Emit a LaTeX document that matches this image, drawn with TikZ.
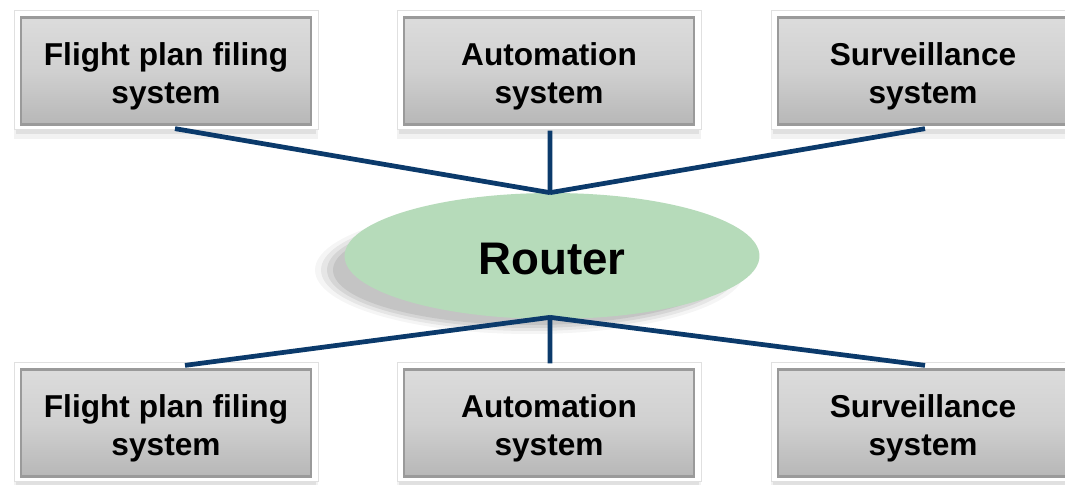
\documentclass[tikz,border=0pt]{standalone}
\usepackage{fontspec}
\setmainfont{Liberation Sans}
\usetikzlibrary{shapes.geometric}
\definecolor{navy}{HTML}{0B3A6B}
\definecolor{boxgray}{HTML}{D0D0D0}
\definecolor{boxedge}{HTML}{9A9A9A}
\definecolor{routergreen}{HTML}{B6DBBA}
\tikzset{
  sysbox/.style={rectangle, minimum width=5.8cm, minimum height=2.14cm, inner sep=0pt,
    top color=boxgray!75!white, bottom color=boxgray!88!black, middle color=boxgray,
    draw=boxedge, line width=1.3pt},
  boxtext/.style={align=center, inner sep=0pt, font=\fontsize{18}{21.5}\selectfont\bfseries},
  link/.style={draw=navy, line width=2.7pt},
}
\newcommand{\frameshadow}[2]{%
  \fill[black, opacity=0.05] (#1-152,#2-58) rectangle (#1+152,#2+68);
  \fill[black, opacity=0.07] (#1-150,#2-58) rectangle (#1+150,#2+63);
  \fill[white] (#1-152,#2-61) rectangle (#1+152,#2+58);
  \draw[black!12, line width=0.4pt] (#1-152,#2-61) rectangle (#1+152,#2+58);
}
\begin{document}
\begin{tikzpicture}[x=0.02cm,y=-0.02cm]
\useasboundingbox[fill=white] (0,0) rectangle (1065,484);
% router shadow
\foreach \i/\o in {0/0.04,0.12/0.06,0.24/0.07,0.36/0.08}{
  \fill[black, opacity=\o] (530,270) ellipse ({4.3cm-\i cm} and {1.28cm-0.5*\i cm});
}
\node[ellipse, minimum width=8.3cm, minimum height=2.52cm, fill=routergreen, inner sep=0pt] (router) at (552,256) {};
\node[inner sep=0pt, font=\fontsize{26}{30}\selectfont\bfseries] (routertext) at ([yshift=-0.06cm]router.center) {Router};
\coordinate (rt) at ([xshift=-0.04cm]router.north);
\coordinate (rb) at ([xshift=-0.04cm,yshift=0.04cm]router.south);
% frames
\frameshadow{166}{71}
\frameshadow{549}{71}
\frameshadow{923}{71}
\frameshadow{166}{423}
\frameshadow{549}{423}
\frameshadow{923}{423}
% boxes
\node[sysbox] (t1) at (166,71) {};
\node[sysbox] (t2) at (549,71) {};
\node[sysbox] (t3) at (923,71) {};
\node[sysbox] (b1) at (166,423) {};
\node[sysbox] (b2) at (549,423) {};
\node[sysbox] (b3) at (923,423) {};
\node[boxtext] at ([yshift=-0.1cm]t1.center) {Flight plan filing\\system};
\node[boxtext] at ([yshift=-0.1cm]t2.center) {Automation\\system};
\node[boxtext] at ([yshift=-0.1cm]t3.center) {Surveillance\\system};
\node[boxtext] at ([yshift=-0.1cm]b1.center) {Flight plan filing\\system};
\node[boxtext] at ([yshift=-0.1cm]b2.center) {Automation\\system};
\node[boxtext] at ([yshift=-0.1cm]b3.center) {Surveillance\\system};
% links
\draw[link] ([xshift=0.18cm,yshift=-0.06cm]t1.south) -- (rt);
\draw[link] ([xshift=0.02cm,yshift=-0.1cm]t2.south) -- (rt);
\draw[link] ([xshift=0.04cm,yshift=-0.06cm]t3.south) -- (rt);
\draw[link] (rb) -- ([xshift=0.38cm,yshift=0.06cm]b1.north);
\draw[link] (rb) -- ([xshift=0.02cm,yshift=0.1cm]b2.north);
\draw[link] (rb) -- ([xshift=0.04cm,yshift=0.06cm]b3.north);
\end{tikzpicture}
\end{document}
